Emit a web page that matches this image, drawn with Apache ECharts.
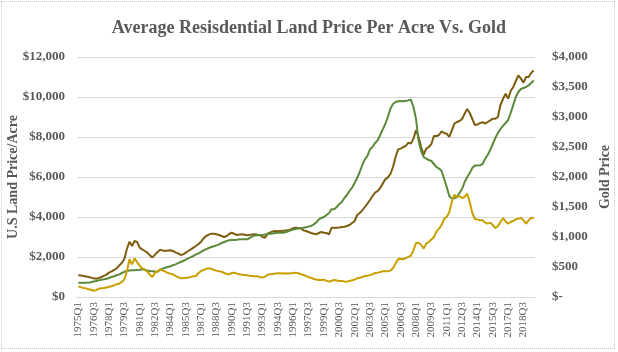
<!DOCTYPE html>
<html>
<head>
<meta charset="utf-8">
<script src="https://cdn.jsdelivr.net/npm/echarts@6/dist/echarts.min.js"></script>
<style>
  html, body { margin: 0; padding: 0; background: #fff; }
  #frame {
    position: absolute; left: 1px; top: 1px; width: 612px; height: 346px;
    border: 1px dotted #c8c8c8;
  }
  #chart { width: 618px; height: 352px; position: absolute; left: 0; top: 0; }
</style>
</head>
<body>
<div id="frame"></div>
<div id="chart"></div>
<script>
// quarters 1975Q1 .. 2019Q3
const startYear = 1975
const quarterCount = 179
const quarters = []
for (let i = 0; i < quarterCount; i++) {
  quarters.push((startYear + Math.floor(i / 4)) + 'Q' + (i % 4 + 1))
}

// dark olive line, left axis ($ per acre)
const landPrice = [
  1083, 1070, 1050, 1030,  1000, 970, 933, 917,  950, 1000, 1060, 1120,
  1217, 1280, 1350, 1433,  1580, 1700, 1900, 2400,  2767, 2550, 2800, 2750,
  2467, 2380, 2300, 2217,  2080, 1980, 2120, 2250,  2367, 2320, 2300, 2330,
  2333, 2300, 2230, 2180,  2100, 2130, 2217, 2300,  2383, 2470, 2550, 2650,
  2767, 2933, 3050, 3120,  3167, 3160, 3140, 3100,  3050, 3000, 3050, 3150,
  3220, 3150, 3100, 3120,  3133, 3110, 3083, 3100,  3130, 3140, 3110, 3100,
  3000, 2967, 3167, 3230,  3280, 3300, 3290, 3300,  3310, 3320, 3333, 3380,
  3440, 3467, 3450, 3433,  3330, 3300, 3250, 3200,  3160, 3133, 3200, 3250,
  3217, 3200, 3133, 3467,  3467, 3467, 3480, 3500,  3517, 3550, 3600, 3700,
  3800, 4100, 4200, 4333,  4500, 4667, 4850, 5050,  5217, 5300, 5450, 5680,
  5880, 5980, 6150, 6500,  7000, 7383, 7420, 7500,  7550, 7717, 7667, 7917,
  8350, 8000, 7500, 7117,  7417, 7500, 7650, 8050,  8050, 8100, 8283, 8200,
  8167, 8000, 8333, 8667,  8750, 8800, 8900, 9167,  9400, 9200, 8900, 8600,
  8620, 8700, 8740, 8667,  8750, 8833, 8917, 8917,  9000, 9600, 9900, 10167,
  9917, 10300, 10500, 10800,  11083, 10917, 10717, 11000,  11000, 11200, 11333
]

// green line, left axis ($ per acre)
const landPrice2 = [
  717, 717, 717, 717,  720, 740, 780, 800,  830, 860, 883, 910,
  950, 1000, 1040, 1090,  1133, 1200, 1260, 1300,  1320, 1333, 1340, 1350,
  1360, 1383, 1370, 1320,  1300, 1290, 1275, 1267,  1350, 1417, 1460, 1500,
  1540, 1590, 1633, 1690,  1750, 1800, 1870, 1930,  1990, 2050, 2133, 2180,
  2260, 2333, 2390, 2450,  2500, 2540, 2583, 2630,  2700, 2750, 2800, 2833,
  2850, 2850, 2860, 2883,  2883, 2883, 2883, 2950,  3030, 3070, 3083, 3090,
  3100, 3120, 3150, 3167,  3180, 3200, 3217, 3217,  3217, 3240, 3290, 3333,
  3370, 3400, 3430, 3450,  3467, 3490, 3520, 3550,  3630, 3717, 3883, 3950,
  4000, 4100, 4200, 4383,  4383, 4500, 4650, 4750,  4950, 5100, 5300, 5467,
  5700, 5950, 6250, 6600,  6880, 7050, 7383, 7500,  7700, 7830, 8100, 8383,
  8650, 9000, 9417, 9650,  9750, 9790, 9800, 9783,  9810, 9830, 9860, 9500,
  8900, 7800, 7300, 7000,  6917, 6850, 6800, 6650,  6500, 6420, 6300, 5900,
  5500, 5050, 4920, 4940,  5000, 5200, 5400, 5750,  6000, 6200, 6450, 6570,
  6580, 6583, 6650, 6900,  7100, 7350, 7650, 7950,  8200, 8400, 8560, 8700,
  8850, 9200, 9600, 10000,  10250, 10400, 10450, 10500,  10580, 10700, 10833
]

// gold price, right axis ($)
const goldPrice = [
  175, 165, 150, 144,  130, 120, 105, 115,  139, 145, 150, 158,
  170, 180, 195, 215,  222, 250, 294, 430,  628, 544, 644, 580,
  520, 480, 450, 422,  370, 333, 406, 430,  461, 440, 425, 400,
  390, 378, 350, 330,  311, 315, 320, 322,  335, 345, 350, 400,
  433, 450, 470, 478,  470, 450, 440, 430,  422, 400, 385, 378,
  400, 406, 390, 378,  370, 365, 361, 355,  350, 345, 344, 335,
  322, 340, 370, 378,  385, 390, 394, 394,  390, 394, 390, 395,
  400, 406, 395, 380,  367, 350, 330, 322,  300, 290, 283, 285,
  289, 270, 256, 270,  283, 275, 267, 265,  260, 256, 265, 278,
  290, 311, 320, 330,  350, 355, 365, 378,  400, 406, 415, 428,
  430, 428, 440, 480,  560, 628, 639, 628,  650, 667, 690, 780,
  900, 900, 870, 806,  889, 917, 960, 1000,  1094, 1140, 1200, 1300,
  1333, 1417, 1583, 1706,  1667, 1680, 1650, 1667,  1722, 1583, 1400, 1300,
  1290, 1280, 1278, 1240,  1222, 1239, 1200, 1150,  1180, 1250, 1317, 1260,
  1222, 1250, 1270, 1294,  1306, 1317, 1280, 1222,  1278, 1322, 1317
]

const serif = '"Liberation Serif", "DejaVu Serif", serif'
const textGray = '#595959'

const chart = echarts.init(document.getElementById('chart'))

const money = v => '$' + Number(v).toLocaleString('en-US')

chart.setOption({
  animation: false,
  backgroundColor: 'transparent',
  title: {
    text: 'Average Resisdential Land Price Per Acre Vs. Gold',
    left: 'center',
    top: 14,
    textStyle: { fontFamily: serif, fontSize: 18, fontWeight: 'bold', color: textGray },
  },
  grid: { left: 77, right: 83, top: 57, bottom: 55, outerBoundsMode: 'none', containLabel: false },
  xAxis: {
    type: 'category',
    data: quarters,
    boundaryGap: true,
    axisLine: { lineStyle: { color: '#d9d9d9' } },
    axisTick: { show: false },
    axisLabel: {
      interval: 5,
      rotate: 90,
      margin: 5,
      fontFamily: serif,
      fontSize: 11,
      color: textGray,
    },
  },
  yAxis: [
    {
      type: 'value',
      min: 0,
      max: 12000,
      interval: 2000,
      name: 'U.S Land Price/Acre',
      nameLocation: 'middle',
      nameRotate: 90,
      nameGap: 57,
      nameMoveOverlap: false,
      nameTextStyle: { fontFamily: serif, fontSize: 14, fontWeight: 'bold', color: textGray },
      axisLine: { show: false },
      axisTick: { show: false },
      splitLine: { lineStyle: { color: '#d9d9d9' } },
      axisLabel: { margin: 12, fontFamily: serif, fontSize: 13, fontWeight: 'bold', color: textGray, formatter: money },
    },
    {
      type: 'value',
      min: 0,
      max: 4000,
      interval: 500,
      name: 'Gold Price',
      nameLocation: 'middle',
      nameRotate: 90,
      nameGap: 63,
      nameMoveOverlap: false,
      nameTextStyle: { fontFamily: serif, fontSize: 14, fontWeight: 'bold', color: textGray },
      axisLine: { show: false },
      axisTick: { show: false },
      splitLine: { show: false },
      axisLabel: {
        margin: 17,
        fontFamily: serif,
        fontSize: 13,
        fontWeight: 'bold',
        color: textGray,
        formatter: v => (v === 0 ? '$-' : money(v)),
      },
    },
  ],
  series: [
    {
      name: 'Land Price Per Acre',
      type: 'line',
      data: landPrice,
      showSymbol: false,
      lineStyle: { color: '#7d5e10', width: 2 },
      itemStyle: { color: '#7d5e10' },
    },
    {
      name: 'Land Price Per Acre (2)',
      type: 'line',
      data: landPrice2,
      showSymbol: false,
      lineStyle: { color: '#5a8a3a', width: 2 },
      itemStyle: { color: '#5a8a3a' },
    },
    {
      name: 'Gold Price',
      type: 'line',
      yAxisIndex: 1,
      data: goldPrice,
      showSymbol: false,
      lineStyle: { color: '#c9a000', width: 2 },
      itemStyle: { color: '#c9a000' },
    },
  ],
})
</script>
</body>
</html>
